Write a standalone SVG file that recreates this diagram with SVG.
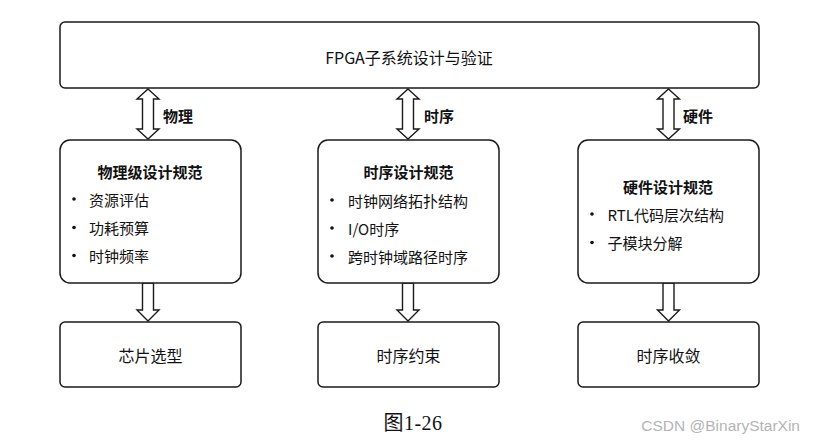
<svg xmlns="http://www.w3.org/2000/svg" width="815" height="445" viewBox="0 0 815 445">
<style>
.box{fill:#fff;stroke:#1a1a1a;stroke-width:1.5}
.arr{fill:#fff;stroke:#1a1a1a;stroke-width:1.4;stroke-linejoin:miter}
.t{font-family:"Noto Sans CJK SC","Noto Sans",sans-serif;fill:#111;dominant-baseline:central}
.n{font-size:15px}
.m{font-size:16px}
.b{font-size:15px;font-weight:bold}
.c{text-anchor:middle}
.dot{fill:#111}
</style>
<defs>
<path id="dbl" d="M0,0 L11,10 L5.5,10 L5.5,40 L11,40 L0,50 L-11,40 L-5.5,40 L-5.5,10 L-11,10 Z"/>
<path id="sgl" d="M-5.5,0 L5.5,0 L5.5,27 L11,27 L0,38 L-11,27 L-5.5,27 Z"/>
</defs>
<rect width="815" height="445" fill="#fff"/>
<g id="connectors">
<use href="#dbl" class="arr" x="148" y="89"/>
<use href="#dbl" class="arr" x="408" y="89"/>
<use href="#dbl" class="arr" x="668.5" y="89"/>
<use href="#sgl" class="arr" x="148" y="283"/>
<use href="#sgl" class="arr" x="408" y="283"/>
<use href="#sgl" class="arr" x="668.5" y="283"/>
<text class="t b" x="163" y="115">物理</text>
<text class="t b" x="424" y="115">时序</text>
<text class="t b" x="683" y="115">硬件</text>
</g>
<g id="top">
<rect class="box" x="60" y="22" width="699" height="66" rx="5"/>
<text class="t m c" x="409" y="57">FPGA子系统设计与验证</text>
</g>
<g id="phys">
<rect class="box" x="60" y="140" width="181" height="143" rx="10"/>
<text class="t b c" x="150" y="171">物理级设计规范</text>
<circle class="dot" cx="74" cy="199" r="1.8"/><text class="t n" x="89" y="199">资源评估</text>
<circle class="dot" cx="74" cy="227.5" r="1.8"/><text class="t n" x="89" y="227.5">功耗预算</text>
<circle class="dot" cx="74" cy="255.5" r="1.8"/><text class="t n" x="89" y="255.5">时钟频率</text>
</g>
<g id="timing">
<rect class="box" x="318" y="140" width="181" height="143" rx="10"/>
<text class="t b c" x="408.5" y="171.5">时序设计规范</text>
<circle class="dot" cx="332" cy="200" r="1.8"/><text class="t n" x="348" y="200">时钟网络拓扑结构</text>
<circle class="dot" cx="332" cy="228" r="1.8"/><text class="t n" x="348" y="228">I/O时序</text>
<circle class="dot" cx="332" cy="256" r="1.8"/><text class="t n" x="348" y="256">跨时钟域路径时序</text>
</g>
<g id="hw">
<rect class="box" x="578" y="140" width="181" height="143" rx="10"/>
<text class="t b c" x="668" y="186">硬件设计规范</text>
<circle class="dot" cx="592" cy="214" r="1.8"/><text class="t n" x="607.5" y="214">RTL代码层次结构</text>
<circle class="dot" cx="592" cy="242.5" r="1.8"/><text class="t n" x="607.5" y="242.5">子模块分解</text>
</g>
<g id="chip">
<rect class="box" x="60" y="322" width="181" height="65" rx="5"/>
<text class="t m c" x="150.5" y="355">芯片选型</text>
</g>
<g id="constraint">
<rect class="box" x="318" y="322" width="181" height="65" rx="5"/>
<text class="t m c" x="408.5" y="355">时序约束</text>
</g>
<g id="closure">
<rect class="box" x="578" y="322" width="181" height="65" rx="5"/>
<text class="t m c" x="668.5" y="355">时序收敛</text>
</g>
<text x="413" y="423" text-anchor="middle" dominant-baseline="central" font-family="'Liberation Serif','Noto Sans CJK SC',serif" font-size="20" letter-spacing="0.5" fill="#111">图1-26</text>
<text x="800" y="425" text-anchor="end" dominant-baseline="central" font-family="'Liberation Sans',sans-serif" font-size="15.5" fill="#b4b4b4">CSDN @BinaryStarXin</text>
</svg>
